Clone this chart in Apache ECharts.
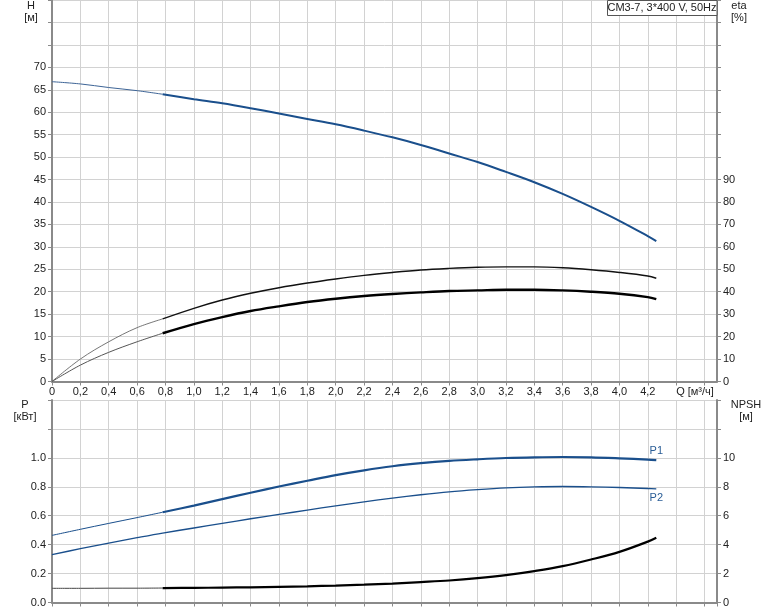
<!DOCTYPE html>
<html>
<head>
<meta charset="utf-8">
<script src="https://cdn.jsdelivr.net/npm/echarts@6/dist/echarts.min.js"></script>
<style>
html,body{margin:0;padding:0;background:#fff;}
#chart{width:774px;height:611px;}
</style>
</head>
<body>
<div id="chart"></div>
<script>
// ---- data ----
const q        = [0,0.2,0.4,0.6,0.78,1.0,1.2,1.4,1.6,1.8,2.0,2.2,2.4,2.6,2.8,3.0,3.2,3.4,3.6,3.8,4.0,4.2,4.26];
const head     = [66.8,66.3,65.5,64.8,64.0,62.9,62.0,60.9,59.7,58.5,57.3,55.9,54.4,52.7,50.8,48.9,46.7,44.4,41.8,38.9,35.8,32.4,31.3];
const etaPump  = [0,10.0,17.7,24.0,27.9,32.6,36.3,39.3,41.8,43.9,45.7,47.3,48.6,49.7,50.4,50.9,51.1,51.1,50.7,49.8,48.6,47.0,46.0];
const etaTotal = [0,7.3,13.0,17.7,21.5,25.6,28.7,31.4,33.5,35.4,36.9,38.1,39.0,39.7,40.3,40.6,40.9,40.9,40.6,40.0,39.1,37.6,36.7];
const p1       = [0.464,0.506,0.547,0.587,0.624,0.670,0.715,0.759,0.802,0.842,0.881,0.914,0.942,0.963,0.979,0.990,0.999,1.004,1.006,1.004,0.997,0.988,0.984];
const p2       = [0.331,0.372,0.411,0.448,0.480,0.515,0.547,0.579,0.609,0.639,0.668,0.696,0.722,0.745,0.765,0.780,0.792,0.799,0.802,0.800,0.795,0.788,0.786];
const npsh     = [0.98,0.98,0.99,0.99,1.0,1.01,1.03,1.05,1.08,1.12,1.17,1.23,1.31,1.41,1.52,1.68,1.89,2.17,2.51,2.97,3.50,4.21,4.48];
const splitIdx = 4; // thin part before Q=0.78, thick after
const title = 'CM3-7, 3*400 V, 50Hz';

const chart = echarts.init(document.getElementById('chart'), null, {renderer:'canvas'});
const FONT = 'Liberation Sans, Arial, sans-serif';
const TXT = '#222';
const AX = '#8a8a8a';
const GRID = '#d2d2d2';
const BLUE = '#1a4f8c';
const LBLUE = '#2a5d96';

function pts(arr, from, to){ const r=[]; for(let i=from;i<=to;i++) r.push([q[i],arr[i]]); return r; }
const last = q.length-1;

function xAx(gi, showLabels){
  return {
    type:'value', gridIndex:gi, min:0, max:4.688, interval:0.2,
    axisLine:{show:true, onZero:false, lineStyle:{color:AX, width:2}},
    axisTick:{show:true, length:4, lineStyle:{color:AX}},
    axisLabel:{show:showLabels, showMaxLabel:false, color:TXT, fontFamily:FONT, fontSize:11, margin:5,
      formatter:v=> v>4.3 ? '' : (v===0 ? '0' : v.toFixed(1).replace('.',','))},
    splitLine:{show:true, lineStyle:{color:GRID, width:1}}
  };
}
function yAx(gi, pos, min, max, interval, fmt, showSplit){
  return {
    type:'value', gridIndex:gi, position:pos, min:min, max:max, interval:interval,
    axisLine:{show:true, lineStyle:{color:AX, width:2}},
    axisTick:{show:true, length:4, lineStyle:{color:AX}},
    axisLabel:{color:TXT, fontFamily:FONT, fontSize:11, margin:6, formatter:fmt, showMaxLabel:true},
    splitLine:{show:showSplit, lineStyle:{color:GRID, width:1}}
  };
}

function line(xi, yi, data, color, width){
  return {type:'line', xAxisIndex:xi, yAxisIndex:yi, data:data, smooth:0.35, showSymbol:false, symbol:'none',
    lineStyle:{color:color, width:width}, silent:true, z:3};
}
function endTag(yi, value, text, pos){
  return {type:'scatter', xAxisIndex:1, yAxisIndex:yi, data:[[q[last], value]], symbol:'circle', symbolSize:2,
    itemStyle:{color:'rgba(255,255,255,0)'}, silent:true, z:4,
    label:{show:true, formatter:text, position:pos, distance:3, color:LBLUE, opacity:1, fontFamily:FONT, fontSize:11}};
}
function txt(x, y, s){
  return {type:'text', x:x, y:y, style:{text:s, fill:TXT, font:'11px '+FONT, textAlign:'center', textVerticalAlign:'middle'}, z:11};
}

const option = {
  animation:false,
  backgroundColor:'#fff',
  grid:[
    {left:52, right:57, top:0, height:381.5, containLabel:false},
    {left:52, right:57, top:400, height:202.5, containLabel:false}
  ],
  xAxis:[ xAx(0,true), xAx(1,false) ],
  yAxis:[
    yAx(0,'left',0,85,5, v=> v>70 ? '' : String(v), true),
    yAx(0,'right',0,170,10, v=> v>90 ? '' : String(v), false),
    yAx(1,'left',0,1.4,0.2, v=> v>1.1 ? '' : v.toFixed(1), true),
    yAx(1,'right',0,14,2, v=> v>11 ? '' : String(v), false)
  ],
  series:[
    line(0,0, pts(head,0,splitIdx), '#3d6496', 1),
    line(0,0, pts(head,splitIdx,last), BLUE, 2),
    line(0,1, pts(etaPump,0,splitIdx), '#666', 0.9),
    line(0,1, pts(etaPump,splitIdx,last), '#111', 1.4),
    line(0,1, pts(etaTotal,0,splitIdx), '#555', 1),
    line(0,1, pts(etaTotal,splitIdx,last), '#000', 2.4),
    line(1,2, pts(p1,0,splitIdx), BLUE, 1),
    line(1,2, pts(p1,splitIdx,last), BLUE, 2.2),
    line(1,2, pts(p2,0,last), BLUE, 1.3),
    line(1,3, pts(npsh,0,splitIdx), '#444', 1),
    line(1,3, pts(npsh,splitIdx,last), '#000', 2.2),
    endTag(2, p1[last], 'P1', 'top'),
    endTag(2, p2[last], 'P2', 'bottom')
  ],
  graphic:[
    txt(31, 6, 'H'),
    txt(31, 18, '[м]'),
    txt(739, 6, 'eta'),
    txt(739, 18, '[%]'),
    txt(25, 405, 'P'),
    txt(25, 417, '[кВт]'),
    txt(746, 405, 'NPSH'),
    txt(746, 417, '[м]'),
    txt(695, 392, 'Q [м³/ч]'),
    {type:'rect', shape:{x:607.5, y:0.5, width:109.5, height:15}, style:{fill:'#fff', stroke:'#555', lineWidth:1}, z:10},
    txt(662, 8, title)
  ]
};
chart.setOption(option);
</script>
</body>
</html>
